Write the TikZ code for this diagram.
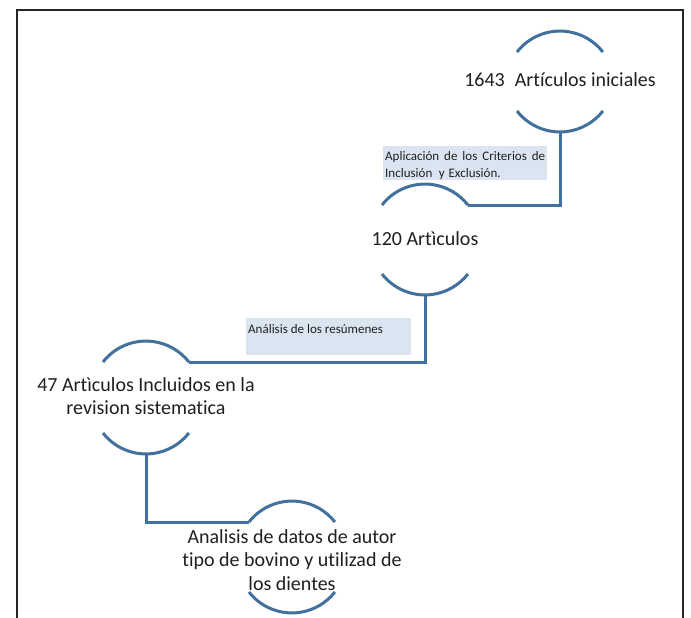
\documentclass[tikz,border=0pt]{standalone}
\usepackage{fontspec}
\setmainfont[Ligatures={NoCommon}]{Carlito}
\definecolor{arcblue}{HTML}{41719C}
\definecolor{notebg}{HTML}{DBE5F1}
\definecolor{txt}{HTML}{1F1F1F}
\newcommand{\flowcap}[3]{%
  \draw[flow] (#1-43,#2) arc[start angle=218,end angle=322,radius=54.5];
  \draw[flow] (#1-43,#3) arc[start angle=142,end angle=38,radius=54.5];
}
\begin{document}
\begin{tikzpicture}[x=1pt,y=-1pt]
\tikzset{
  flow/.style={draw=arcblue, line width=3pt},
  lbl/.style={font=\fontsize{20}{23.5}\selectfont, align=center, text=txt, inner sep=0pt},
  note/.style={fill=notebg, inner sep=0pt, anchor=north west, text=txt,
    font=\fontsize{13}{17}\selectfont}
}
\useasboundingbox (0,0) rectangle (691,618);
\fill[white] (0,0) rectangle (691,618);
\draw[black!85, line width=1.6pt] (17,618) -- (17,10) -- (683,10) -- (683,618);

% node 1
\flowcap{560}{52}{111}
\node[lbl] (n1) at (560,80) {1643\hspace{0.5em}Artículos iniciales};
\coordinate (n1out) at (560,132);
% node 2
\flowcap{425}{205}{274}
\node[lbl] (n2) at (425,239) {120 Artìculos};
\coordinate (n2in) at (468,205);
\coordinate (n2out) at (425,295);
% node 3
\flowcap{146}{362}{433}
\node[lbl] (n3) at (146,396) {47 Artìculos Incluidos en la\\revision sistematica};
\coordinate (n3in) at (189,362);
\coordinate (n3out) at (146,454);
% node 4
\flowcap{292}{522}{592}
\node[lbl] (n4) at (292,560) {Analisis de datos de autor\\tipo de bovino y utilizad de\\los dientes};
\coordinate (n4in) at (249,522);

% connectors
\draw[flow] (n1out) |- (n2in);
\draw[flow] (n2out) |- (n3in);
\draw[flow] (n3out) |- (n4in);

% notes
\node[note] (c1) at (383,146) {\parbox[c][34pt][t]{164pt}{\vspace{5pt}\hspace*{2pt}\parbox[t]{160pt}{\spaceskip=0.3em plus 2em
Aplicación de los Criterios de\linebreak Inclusión\hspace{0.5em}y Exclusión.}}};
\node[note] (c2) at (246,318) {\parbox[c][37pt][t]{165pt}{\vspace{6pt}\hspace*{2pt}Análisis de los resúmenes}};
\end{tikzpicture}
\end{document}
